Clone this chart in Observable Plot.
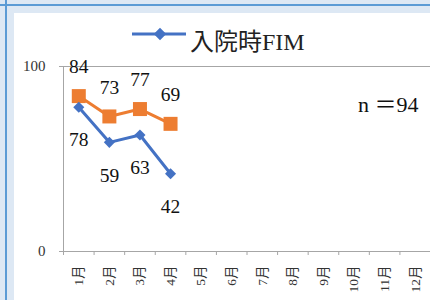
<!DOCTYPE html>
<html><head><meta charset="utf-8">
<script src="https://cdn.jsdelivr.net/npm/d3@7"></script>
<script src="https://cdn.jsdelivr.net/npm/@observablehq/plot@0.6"></script>
<style>
html,body{margin:0;padding:0;background:#dde8f4;}
#wrap{position:relative;width:430px;height:300px;overflow:hidden;background:#dde8f4;font-family:'Liberation Serif','Noto Sans CJK JP',serif;}
#vline{position:absolute;left:5px;top:0;width:2px;height:300px;background:#5b9bd5;}
#hline{position:absolute;left:0;top:4px;width:430px;height:2px;background:#5b9bd5;}
#panel{position:absolute;left:14px;top:13px;right:0;bottom:0;background:#fff;}
#legend{position:absolute;left:132px;top:22px;height:24px;}
#legend svg{position:absolute;left:0;top:0;}
#legend span{position:absolute;left:58px;top:7px;font-size:24px;line-height:26px;white-space:nowrap;color:#222;}
#chart{position:absolute;left:0;top:0;}
#chart svg, #chart svg text{font-family:'Liberation Serif','Noto Sans CJK JP',serif !important;}
</style></head>
<body>
<div id="wrap">
  <div id="vline"></div><div id="hline"></div><div id="panel"></div>
  <div id="legend"></div>
  <div id="chart"></div>
</div>
<script>
const months = ["1月","2月","3月","4月","5月","6月","7月","8月","9月","10月","11月","12月"];
const admissionFIM = [78, 59, 63, 42];   // blue series (入院時FIM)
const secondSeries = [84, 73, 77, 69];   // orange series
const yTicks = [0, 100];
const legendLabel = "入院時FIM";
const noteText = "n ＝94";

const blue = "#4472c4", orange = "#ed7d31", axisGray = "#a6a6a6";

const blueRows = admissionFIM.map((v, i) => ({m: i + 1, v}));
const orangeRows = secondSeries.map((v, i) => ({m: i + 1, v}));

// legend
const leg = document.getElementById("legend");
const sw = d3.create("svg").attr("width", 56).attr("height", 24);
sw.append("line").attr("x1", 0).attr("x2", 54).attr("y1", 12).attr("y2", 12).attr("stroke", blue).attr("stroke-width", 3);
sw.append("path").attr("d", d3.symbol(d3.symbolDiamond2, 100)()).attr("transform", "translate(28,12)").attr("fill", blue);
leg.appendChild(sw.node());
const sp = document.createElement("span"); sp.textContent = legendLabel; leg.appendChild(sp);

const chart = Plot.plot({
  width: 430, height: 300,
  marginLeft: 63, marginRight: 0, marginTop: 66, marginBottom: 49,
  style: {background: "transparent", overflow: "visible"},
  x: {type: "linear", domain: [0.5, 12.5], axis: null},
  y: {domain: [0, 100], axis: null},
  marks: [
    Plot.ruleY([100], {stroke: axisGray, strokeWidth: 1}),
    Plot.ruleY([0], {stroke: axisGray, strokeWidth: 1}),
    Plot.ruleX([0.5], {y1: 0, y2: 100, stroke: axisGray, strokeWidth: 1}),
    Plot.axisY({ticks: yTicks, tickSize: 4, tickPadding: 14, fontSize: 15, stroke: axisGray, fill: "#333", strokeOpacity: 1, label: null}),
    Plot.axisX({ticks: d3.range(0.5, 13, 1), tickSize: 4, tickFormat: () => "", stroke: axisGray, strokeOpacity: 1, label: null}),
    Plot.axisX({ticks: d3.range(1, 13), tickSize: 0, tickPadding: 14, tickRotate: -90, tickFormat: d => months[d - 1], fontSize: 13.5, fill: "#333", label: null}),
    Plot.line(orangeRows, {x: "m", y: "v", stroke: orange, strokeWidth: 3}),
    Plot.dot(orangeRows, {x: "m", y: "v", symbol: "square", r: 7.9, fill: orange, stroke: "none"}),
    Plot.line(blueRows, {x: "m", y: "v", stroke: blue, strokeWidth: 3}),
    Plot.dot(blueRows, {x: "m", y: "v", symbol: "diamond2", r: 5, fill: blue, stroke: "none"}),
    Plot.text(orangeRows, {x: "m", y: "v", text: d => String(d.v), dy: -29, fontSize: 19.5, fill: "#111"}),
    Plot.text(blueRows, {x: "m", y: "v", text: d => String(d.v), dy: 33, fontSize: 19.5, fill: "#111"}),
    Plot.text([noteText], {frameAnchor: "top-right", text: d => d, textAnchor: "end", dx: -12, dy: 30, fontSize: 22, fill: "#111"})
  ]
});
document.getElementById("chart").appendChild(chart);
</script>
</body></html>
